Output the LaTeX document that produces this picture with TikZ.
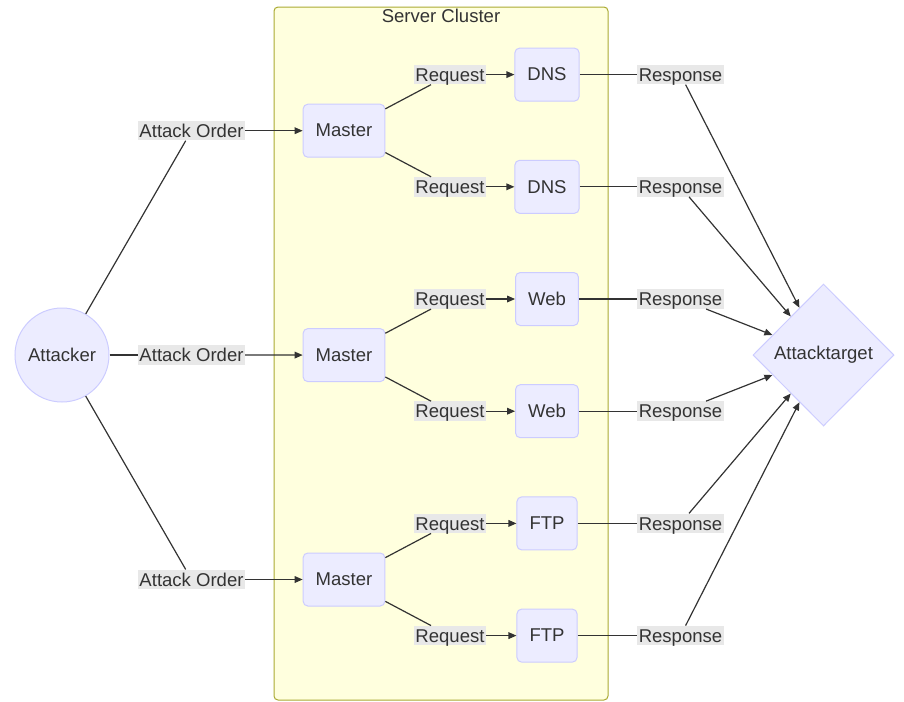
\documentclass[tikz,border=0pt]{standalone}
\usepackage{fontspec}
\setmainfont{Liberation Sans}
\usetikzlibrary{shapes.geometric,arrows.meta}
\definecolor{nodefill}{HTML}{ECECFF}
\definecolor{nodeline}{HTML}{CCCCFF}
\definecolor{clusterfill}{HTML}{FFFFDE}
\definecolor{clusterline}{HTML}{AAAA33}
\definecolor{lblfill}{HTML}{E8E8E8}
\definecolor{ink}{HTML}{333333}
\tikzset{
  every node/.style={font=\fontsize{13.9}{16}\selectfont, text=ink},
  box/.style={draw=nodeline, fill=nodefill, line width=0.75pt, rounded corners=3.5pt,
    minimum height=39.75pt, inner xsep=9.4pt, inner ysep=0pt},
  lbl/.style={fill=lblfill, inner xsep=1.1pt, inner ysep=0pt, text height=12.4pt, text depth=2.25pt},
  edge/.style={draw=ink, line width=0.9pt},
  arr/.style={edge, -{Triangle[length=6pt,width=5pt]}},
}
\begin{document}
\begin{tikzpicture}[x=0.75pt, y=-0.75pt]
\useasboundingbox (0,0) rectangle (904,701);
% cluster
\draw[draw=clusterline, fill=clusterfill, line width=0.75pt, rounded corners=3pt] (274,7) rectangle (608,700);
\node[anchor=base] (title) at (441,22) {Server Cluster};

% nodes
\node[circle, draw=nodeline, fill=nodefill, line width=0.75pt, minimum size=70.5pt, inner sep=0pt] (att) at (62,355) {Attacker};
\node[diamond, draw=nodeline, fill=nodefill, line width=0.75pt, minimum width=105.75pt, minimum height=106.5pt, inner sep=0pt] (tgt) at (823.5,355) {Attacktarget};

\node[box] (m1) at (344,130.7) {Master};
\node[box] (m2) at (344,355.1) {Master};
\node[box] (m3) at (344,579.5) {Master};

\node[box] (s1) at (547,74.6) {DNS};
\node[box] (s2) at (547,186.8) {DNS};
\node[box] (s3) at (547,299.0) {Web};
\node[box] (s4) at (547,411.2) {Web};
\node[box] (s5) at (547,523.4) {FTP};
\node[box] (s6) at (547,635.6) {FTP};

\node[lbl] (a1) at (191.5,130.7) {Attack Order};
\node[lbl] (a2) at (191.5,355) {Attack Order};
\node[lbl] (a3) at (191.5,579.5) {Attack Order};

\foreach \i/\y in {1/74.6,2/186.8,3/299.0,4/411.2,5/523.4,6/635.6}{
  \node[lbl] (q\i) at (450,\y) {Request};
  \node[lbl] (r\i) at (680.5,\y) {Response};
}

% edges
\foreach \i in {1,2,3}{
  \draw[edge] (att) -- (a\i);
  \draw[arr] (a\i) -- (m\i);
}
\foreach \m/\a/\b in {1/1/2,2/3/4,3/5/6}{
  \draw[edge] (m\m) -- (q\a);
  \draw[edge] (m\m) -- (q\b);
}
\foreach \i in {1,...,6}{
  \draw[arr] (q\i) -- (s\i);
  \draw[edge] (s\i) -- (r\i);
  \draw[arr] (r\i) -- (tgt);
}
\end{tikzpicture}
\end{document}
